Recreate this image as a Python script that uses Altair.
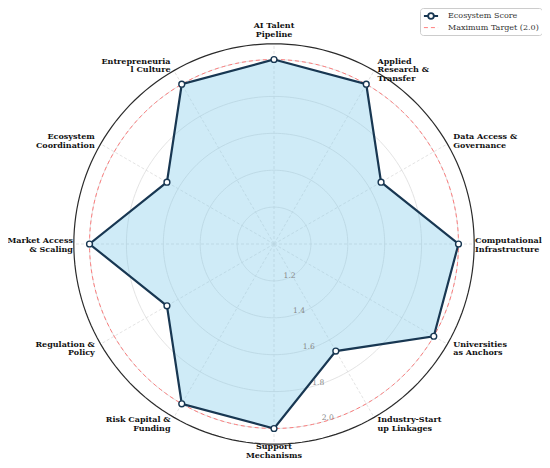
import altair as alt
import pandas as pd

# ---------------- data ----------------
categories = [
    "AI Talent\nPipeline",
    "Applied\nResearch &\nTransfer",
    "Data Access &\nGovernance",
    "Computational\nInfrastructure",
    "Universities\nas Anchors",
    "Industry-Start\nup Linkages",
    "Support\nMechanisms",
    "Risk Capital &\nFunding",
    "Regulation &\nPolicy",
    "Market Access\n& Scaling",
    "Ecosystem\nCoordination",
    "Entrepreneuria\nl Culture",
]
scores = [2.0, 2.0, 1.67, 2.0, 2.0, 1.67, 2.0, 2.0, 1.67, 2.0, 1.67, 2.0]
radial_ticks = [1.2, 1.4, 1.6, 1.8, 2.0]
radial_tick_labels = ["1.2", "1.4", "1.6", "1.8", "2.0"]
target_value = [2.0]
r_center = 1.0
r_outer = [2.085]
series_names = ["Ecosystem Score", "Maximum Target (2.0)"]

# ---------------- style ----------------
NAVY = "#183752"
SKY = "#87CEEB"
RED = "#ff6b6b"
GRID = "#dcdcdc"
SERIF = "DejaVu Serif"

W, H = 534, 452
CX, CY = 266, 236
PX = 184.5
x_dom = [-CX / PX, (W - CX) / PX]
y_dom = [-(H - CY) / PX, CY / PX]
xs = alt.Scale(domain=x_dom, nice=False, zero=False)
ys = alt.Scale(domain=y_dom, nice=False, zero=False)


def X(f):
    return alt.X(f"{f}:Q", scale=xs, axis=None)


def Y(f):
    return alt.Y(f"{f}:Q", scale=ys, axis=None)


n = len(categories)
df = pd.DataFrame({
    "idx": list(range(n)),
    "category": categories,
    "score": scores,
    "series": series_names[0],
})
ANG = f"datum.idx * 2 * PI / {n}"

PATH = "M-1,0L-0.4,0M0.4,0L1,0M0.4,0A0.4,0.4,0,1,1,-0.4,0A0.4,0.4,0,1,1,0.4,0Z"

# legend B carries the box (and reserves an empty top row), legend A sits in that row
legend_b = alt.Legend(
    title="\u00a0", titleFontSize=7, titlePadding=1.6, titleOrient="top",
    orient="none", legendX=412, legendY=0, zindex=0,
    symbolType="stroke", symbolSize=200, symbolStrokeWidth=1.0,
    symbolStrokeColor=RED,
    labelFont=SERIF, labelFontSize=8, labelColor="#333333",
    fillColor="white", strokeColor="#cccccc", cornerRadius=3, padding=3,
    labelOffset=9,
)
legend_a = alt.Legend(
    title=None, orient="none", legendX=415, legendY=0, zindex=1,
    symbolType=PATH, symbolSize=200, symbolStrokeWidth=1.8,
    symbolFillColor="white",
    labelFont=SERIF, labelFontSize=8, labelColor="#333333",
    padding=0, labelOffset=9,
)


def circle_layer(values):
    return (
        alt.Chart(pd.DataFrame({"r": values}))
        .transform_calculate(deg="sequence(0, 362, 2)")
        .transform_flatten(["deg"])
        .transform_calculate(
            x=f"(datum.r - {r_center}) * sin(datum.deg * PI / 180)",
            y=f"(datum.r - {r_center}) * cos(datum.deg * PI / 180)",
        )
    )


grid = circle_layer(radial_ticks).mark_line(color=GRID, strokeWidth=0.8).encode(
    x=X("x"), y=Y("y"), detail="r:N", order="deg:Q"
)

outer = circle_layer(r_outer).mark_line(color="#2b2b2b", strokeWidth=1.2).encode(
    x=X("x"), y=Y("y"), order="deg:Q"
)

target = (
    circle_layer(target_value)
    .transform_calculate(series2=f"'{series_names[1]}'")
    .mark_line(strokeWidth=1.0, color=RED, opacity=0.85)
    .encode(
        x=X("x"), y=Y("y"), order="deg:Q",
        strokeDash=alt.StrokeDash(
            "series2:N",
            scale=alt.Scale(domain=[series_names[1]], range=[[4, 3]]),
            legend=legend_b,
        ),
    )
)

spokes = (
    alt.Chart(df)
    .transform_calculate(
        x0="0", y0="0",
        x1=f"{r_outer[0] - r_center} * sin({ANG})",
        y1=f"{r_outer[0] - r_center} * cos({ANG})",
    )
    .mark_rule(color=GRID, strokeWidth=0.8, strokeDash=[3, 2])
    .encode(x=X("x0"), y=Y("y0"), x2="x1:Q", y2="y1:Q")
)

pts = alt.Chart(df).transform_calculate(
    x=f"(datum.score - {r_center}) * sin({ANG})",
    y=f"(datum.score - {r_center}) * cos({ANG})",
)

fill = pts.mark_line(
    interpolate="linear-closed", fill=SKY, fillOpacity=0.4, strokeOpacity=0, strokeWidth=0
).encode(x=X("x"), y=Y("y"), order="idx:Q")

line = pts.mark_line(interpolate="linear-closed", strokeWidth=2.2).encode(
    x=X("x"), y=Y("y"), order="idx:Q",
    color=alt.Color(
        "series:N",
        scale=alt.Scale(domain=[series_names[0]], range=[NAVY]),
        legend=legend_a,
    ),
)

markers = pts.mark_point(
    shape="circle", filled=True, color="white", stroke=NAVY, strokeWidth=1.4, size=34, opacity=1
).encode(x=X("x"), y=Y("y"))

tick_df = pd.DataFrame({"r": radial_ticks, "label": radial_tick_labels})
ticks = (
    alt.Chart(tick_df)
    .transform_calculate(
        x=f"(datum.r - {r_center}) * sin(165 * PI / 180)",
        y=f"(datum.r - {r_center}) * cos(165 * PI / 180)",
    )
    .mark_text(align="left", baseline="bottom", font=SERIF, fontSize=7.6, color="#8a8a8a")
    .encode(x=X("x"), y=Y("y"), text="label:N")
)

half = n // 2
quarter = n // 4
lab_base = alt.Chart(df).transform_calculate(
    side=f"(datum.idx % {half} == 0) ? 'c' : (datum.idx < {half} ? 'l' : 'r')"
).transform_calculate(
    lr=(
        f"datum.idx == 0 ? 2.165 : (datum.idx == {half} ? 2.119 : "
        f"((datum.idx == {quarter} || datum.idx == {3 * quarter}) ? 2.09 : 2.122))"
    )
).transform_calculate(
    x=f"(datum.lr - {r_center}) * sin({ANG})",
    y=f"(datum.lr - {r_center}) * cos({ANG})",
)


def label_layer(side, align):
    return lab_base.transform_filter(f"datum.side == '{side}'").mark_text(
        align=align, baseline="middle", lineBreak="\n", font=SERIF,
        fontWeight="bold", fontSize=8, lineHeight=8.6, color="#111111", dy=-3,
    ).encode(x=X("x"), y=Y("y"), text="category:N")


labels = (
    label_layer("c", "center")
    + label_layer("l", "left")
    + label_layer("r", "right")
)

chart = (
    alt.layer(grid, spokes, fill, target, outer, line, markers, ticks, labels)
    .resolve_legend(color="independent", strokeDash="independent")
    .properties(
        width=W, height=H, padding=0,
        autosize=alt.AutoSizeParams(type="none"),
        background="white",
    )
    .configure_view(stroke=None)
)

chart.save("out.html", embed_options={"renderer": "svg", "actions": False})
